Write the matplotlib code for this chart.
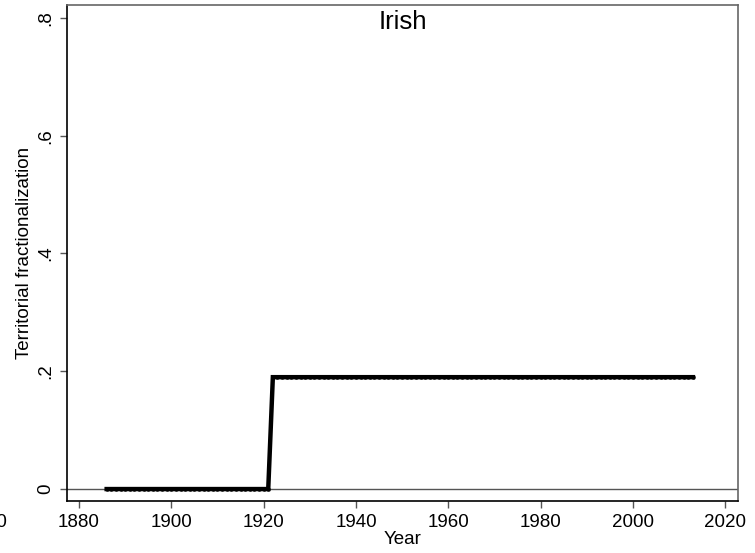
import numpy as np
import matplotlib
matplotlib.use('Agg')
import matplotlib.pyplot as plt
import matplotlib.transforms as mtransforms

plt.rcParams['font.family'] = ['Liberation Sans', 'DejaVu Sans']

# annual values, Irish territorial fractionalization
years = list(range(1886, 2014))
values = [0.0 if y <= 1921 else 0.19 for y in years]

xticks = [1880, 1900, 1920, 1940, 1960, 1980, 2000, 2020]
yticks = [0, 0.2, 0.4, 0.6, 0.8]
ylabels = ['0', '.2', '.4', '.6', '.8']

fs = 13.5
fig = plt.figure(figsize=(7.55, 5.53), dpi=100)
ax = fig.add_axes([0.0887, 0.094, 0.889, 0.897])

ax.axhline(0, color='#555555', lw=1.0, zorder=1)
ax.plot(years, values, color='black', lw=3.2, marker='o', ms=2.2,
        solid_joinstyle='miter', zorder=3)

ax.set_xlim(1877.4, 2022.8)
ax.set_ylim(-0.0203, 0.822)
ax.set_xticks(xticks)
ax.set_yticks(yticks)
ax.set_yticklabels(ylabels, rotation=90, va='center')
ax.tick_params(axis='both', direction='out', length=5, width=1,
               color='#555555', labelsize=fs, pad=4)

# 1860 label that hangs outside the plot region, as in the original
trans = mtransforms.blended_transform_factory(ax.transData, ax.transAxes)
ax.text(1860, -0.027, '1860', transform=trans, ha='center', va='top',
        fontsize=fs, clip_on=False)

for side in ['left', 'bottom']:
    ax.spines[side].set_color('black')
    ax.spines[side].set_linewidth(1.2)
for side in ['top', 'right']:
    ax.spines[side].set_color('#666666')
    ax.spines[side].set_linewidth(1.2)

ax.set_xlabel('Year', fontsize=fs, labelpad=0)
ax.set_ylabel('Territorial fractionalization', fontsize=fs)
ax.yaxis.set_label_coords(-0.05, 0.5)
ax.text(0.5, 0.99, 'Irish', transform=ax.transAxes, ha='center', va='top',
        fontsize=18.5)

fig.savefig('out.png', dpi=100)
